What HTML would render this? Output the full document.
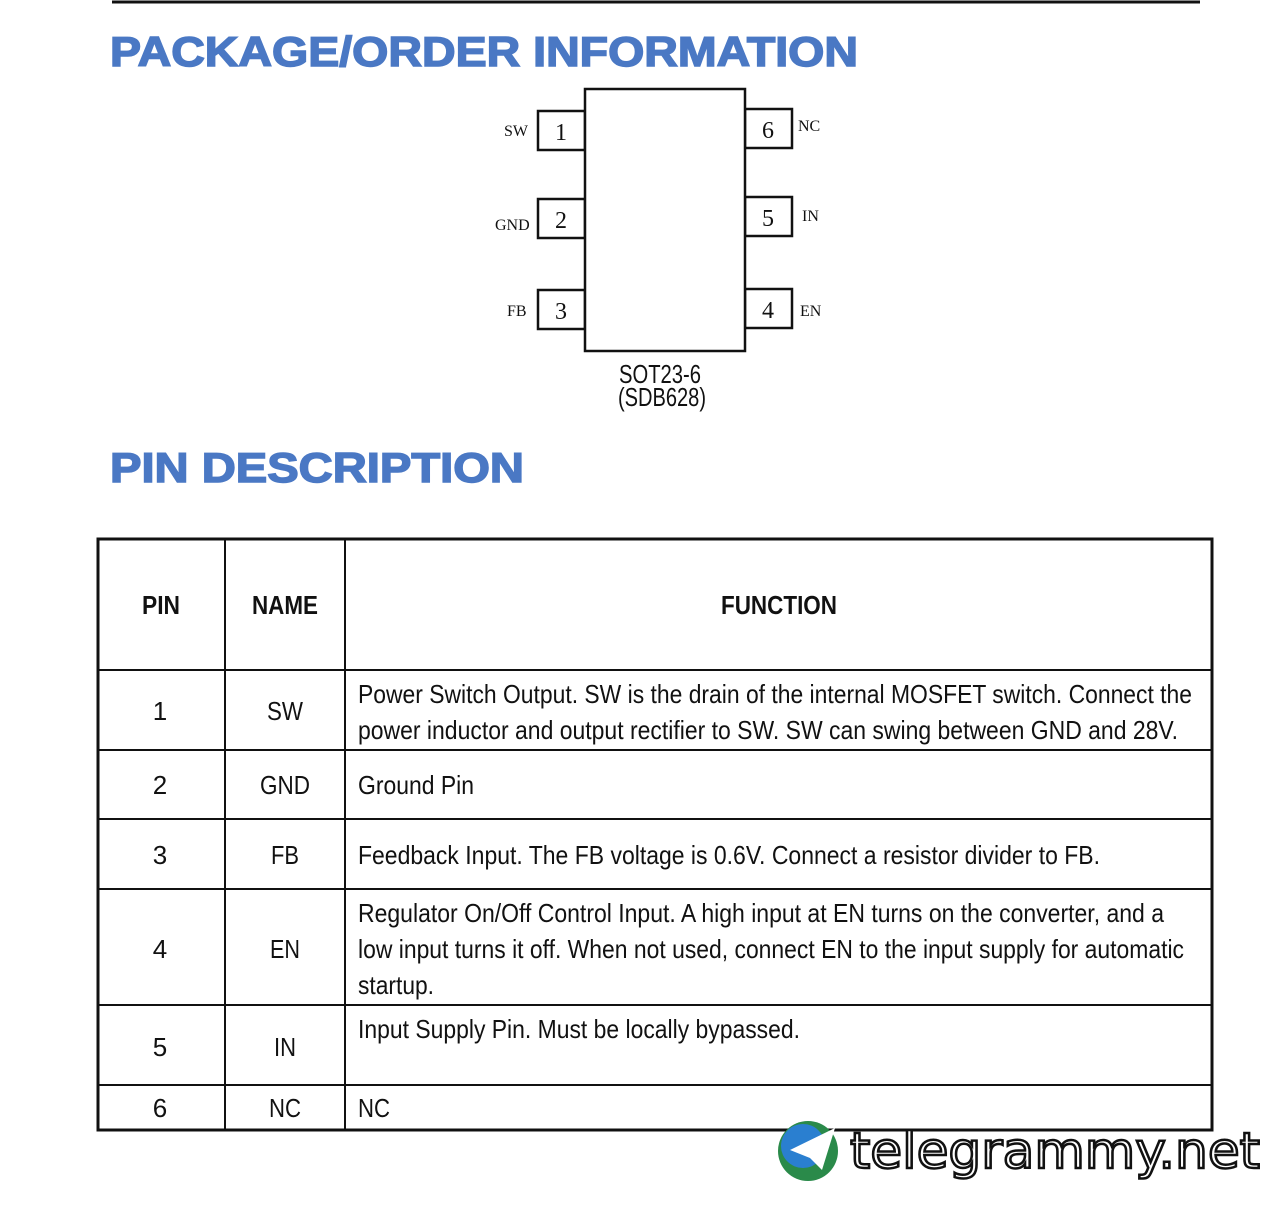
<!DOCTYPE html>
<html><head><meta charset="utf-8"><style>
html,body{margin:0;padding:0;background:#fff;}
svg{display:block}
.h{font-family:"Liberation Sans",sans-serif;font-weight:bold;fill:#4a78c4;stroke:#4a78c4;stroke-width:1.5;font-size:42px}
.s{font-family:"Liberation Serif",serif;fill:#111}
.t{font-family:"Liberation Sans Narrow","Liberation Sans",sans-serif;fill:#111;font-size:26px}
.tb{font-family:"Liberation Sans Narrow","Liberation Sans",sans-serif;fill:#111;font-size:26px;font-weight:bold}
</style></head><body>
<svg width="1280" height="1211" viewBox="0 0 1280 1211" xmlns="http://www.w3.org/2000/svg">
<line x1="112" y1="2" x2="1200" y2="2" stroke="#111" stroke-width="3"/>
<text class="h" x="110" y="66" textLength="748" lengthAdjust="spacingAndGlyphs">PACKAGE/ORDER INFORMATION</text>
<g fill="#fff" stroke="#111" stroke-width="2.5">
<rect x="538" y="111" width="47" height="39"/>
<rect x="538" y="199" width="47" height="39"/>
<rect x="538" y="290" width="47" height="39"/>
<rect x="745" y="109" width="47" height="39"/>
<rect x="745" y="197" width="47" height="39"/>
<rect x="745" y="289" width="47" height="39"/>
<rect x="585" y="89" width="160" height="262"/>
</g>
<g class="s" font-size="24" text-anchor="middle">
<text x="561" y="140">1</text><text x="561" y="228">2</text><text x="561" y="319">3</text>
<text x="768" y="138">6</text><text x="768" y="226">5</text><text x="768" y="318">4</text>
</g>
<g class="s" font-size="16">
<text x="504" y="136">SW</text><text x="495" y="230">GND</text><text x="507" y="316">FB</text>
<text x="798" y="131">NC</text><text x="802" y="221">IN</text><text x="800" y="316">EN</text>
</g>
<text class="t" x="619" y="383" font-size="23" textLength="82" lengthAdjust="spacingAndGlyphs">SOT23-6</text>
<text class="t" x="618" y="406" font-size="23" textLength="88" lengthAdjust="spacingAndGlyphs">(SDB628)</text>
<text class="h" x="110" y="482" textLength="414" lengthAdjust="spacingAndGlyphs">PIN DESCRIPTION</text>
<g stroke="#111" fill="none">
<rect x="98" y="539" width="1114" height="591" stroke-width="3"/>
<line x1="225" y1="539" x2="225" y2="1130" stroke-width="2"/>
<line x1="345" y1="539" x2="345" y2="1130" stroke-width="2"/>
<line x1="98" y1="670" x2="1212" y2="670" stroke-width="2"/>
<line x1="98" y1="750" x2="1212" y2="750" stroke-width="2"/>
<line x1="98" y1="819" x2="1212" y2="819" stroke-width="2"/>
<line x1="98" y1="889" x2="1212" y2="889" stroke-width="2"/>
<line x1="98" y1="1005" x2="1212" y2="1005" stroke-width="2"/>
<line x1="98" y1="1085" x2="1212" y2="1085" stroke-width="2"/>
</g>
<g class="tb">
<text x="142" y="614" textLength="38" lengthAdjust="spacingAndGlyphs">PIN</text>
<text x="252" y="614" textLength="66" lengthAdjust="spacingAndGlyphs">NAME</text>
<text x="721" y="614" textLength="116" lengthAdjust="spacingAndGlyphs">FUNCTION</text>
</g>
<g class="t" text-anchor="middle">
<text x="160" y="720">1</text><text x="285" y="720" textLength="36" lengthAdjust="spacingAndGlyphs">SW</text>
<text x="160" y="794">2</text><text x="285" y="794" textLength="50" lengthAdjust="spacingAndGlyphs">GND</text>
<text x="160" y="864">3</text><text x="285" y="864" textLength="28" lengthAdjust="spacingAndGlyphs">FB</text>
<text x="160" y="958">4</text><text x="285" y="958" textLength="30" lengthAdjust="spacingAndGlyphs">EN</text>
<text x="160" y="1056">5</text><text x="285" y="1056" textLength="22" lengthAdjust="spacingAndGlyphs">IN</text>
<text x="160" y="1117">6</text><text x="285" y="1117" textLength="32" lengthAdjust="spacingAndGlyphs">NC</text>
</g>
<g class="t">
<text x="358" y="703" textLength="834" lengthAdjust="spacingAndGlyphs">Power Switch Output. SW is the drain of the internal MOSFET switch. Connect the</text>
<text x="358" y="739" textLength="820" lengthAdjust="spacingAndGlyphs">power inductor and output rectifier to SW. SW can swing between GND and 28V.</text>
<text x="358" y="794" textLength="116" lengthAdjust="spacingAndGlyphs">Ground Pin</text>
<text x="358" y="864" textLength="742" lengthAdjust="spacingAndGlyphs">Feedback Input. The FB voltage is 0.6V. Connect a resistor divider to FB.</text>
<text x="358" y="922" textLength="806" lengthAdjust="spacingAndGlyphs">Regulator On/Off Control Input. A high input at EN turns on the converter, and a</text>
<text x="358" y="958" textLength="826" lengthAdjust="spacingAndGlyphs">low input turns it off. When not used, connect EN to the input supply for automatic</text>
<text x="358" y="994" textLength="76" lengthAdjust="spacingAndGlyphs">startup.</text>
<text x="358" y="1038" textLength="442" lengthAdjust="spacingAndGlyphs">Input Supply Pin. Must be locally bypassed.</text>
<text x="358" y="1117" textLength="32" lengthAdjust="spacingAndGlyphs">NC</text>
</g>
<circle cx="808" cy="1151" r="30" fill="#2a8a4a"/>
<circle cx="803" cy="1146" r="22" fill="#2a7fd0"/>
<path d="M790 1150 L835 1128 L822 1170 L810 1158 Z" fill="#fff"/>
<text x="850" y="1168" font-family="DejaVu Sans,sans-serif" font-size="50" fill="#fff" stroke="#111" stroke-width="2.5" textLength="410" lengthAdjust="spacingAndGlyphs">telegrammy.net</text>
</svg>
</body></html>
